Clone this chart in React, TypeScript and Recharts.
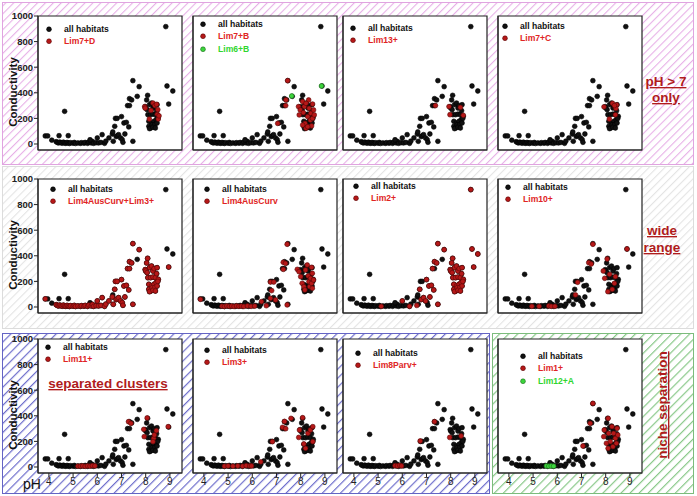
import React from 'react';
import { ScatterChart, Scatter, XAxis, YAxis, CartesianGrid, ReferenceArea, Legend } from 'recharts';

const FONT = "'Liberation Sans', Arial, sans-serif";

// ---------- data: [pH, conductivity] ----------
const allHabitats: number[][] = [
  [3.85, 63], [3.95, 63], [4.12, 30], [4.42, 65], [4.65, 255], [4.8, 65],
  [4.3, 18], [4.35, 12], [4.4, 8], [4.45, 15], [4.5, 10], [4.55, 6], [4.6, 14], [4.65, 8], [4.7, 5], [4.75, 12],
  [4.8, 8], [4.85, 4], [4.9, 10], [5.0, 6], [5.05, 12], [5.1, 4], [5.2, 8], [5.3, 5], [5.35, 10], [5.45, 6],
  [5.5, 12], [5.6, 5], [5.65, 15], [5.75, 8], [5.8, 20], [5.85, 5], [5.95, 10], [6.05, 8], [6.15, 12], [6.3, 5], [6.35, 22],
  [5.7, 33], [6.0, 47], [6.2, 73], [6.48, 47], [6.62, 78], [6.66, 21], [6.72, 138], [6.75, 200], [6.82, 200],
  [6.78, 58], [6.83, 65], [6.88, 73], [6.64, 94],
  [7.0, 214], [6.96, 47], [7.03, 34], [7.06, 13], [7.1, 164], [7.2, 169], [7.14, 78], [7.3, 133], [7.25, 300],
  [7.33, 300], [7.33, 354], [7.42, 344], [7.47, 495], [7.47, 21], [7.65, 372], [7.73, 448],
  [7.98, 292], [8.0, 281], [8.06, 268], [8.08, 380], [8.04, 344], [8.16, 307], [8.24, 320], [8.3, 281], [8.35, 300],
  [8.47, 307], [8.09, 229], [8.2, 229], [8.3, 234], [8.4, 229], [8.13, 177], [8.24, 164], [8.34, 177], [8.43, 190],
  [8.13, 138], [8.2, 125], [8.27, 151], [8.37, 151], [8.47, 164], [8.16, 120], [8.3, 130], [8.4, 125], [8.52, 216],
  [8.45, 260], [8.5, 200],
  [8.83, 917], [8.88, 453], [8.95, 312], [9.12, 414],
];

const lim7D: number[][] = [
  [7.96, 292], [7.98, 280], [8.15, 195], [8.22, 262], [8.3, 320], [8.38, 300], [8.45, 310], [8.48, 232],
  [8.5, 268], [8.52, 195], [8.55, 220],
];
const lim7B: number[][] = [
  [7.46, 495], [7.39, 344], [7.38, 300], [7.05, 161], [7.91, 292], [7.94, 227], [7.98, 266], [8.08, 331],
  [8.11, 245], [8.15, 292], [8.18, 161], [8.22, 122], [8.29, 214], [8.33, 344], [8.35, 279], [8.4, 187],
  [8.42, 240], [8.49, 312], [8.49, 200], [8.45, 141], [8.08, 148], [8.29, 135], [8.53, 266], [8.22, 318], [8.56, 227],
];
const lim6B: number[][] = [[7.63, 375], [8.86, 453]];
const lim13: number[][] = [[7.37, 300], [7.93, 292], [7.97, 229], [8.4, 286], [8.52, 224]];
const lim7C: number[][] = [[7.93, 290], [8.28, 318], [8.45, 305], [8.42, 278], [8.15, 195], [8.4, 228], [8.36, 300]];

const lim4AusCurvLim3: number[][] = [
  [3.85, 63],
  [4.3, 18], [4.35, 12], [4.4, 8], [4.45, 15], [4.5, 10], [4.55, 6], [4.6, 14], [4.65, 8], [4.7, 5], [4.75, 12],
  [4.8, 8], [4.85, 4], [4.9, 10], [5.0, 6], [5.05, 12], [5.1, 4], [5.2, 8], [5.3, 5], [5.35, 10], [5.45, 6],
  [5.5, 12], [5.6, 5], [5.65, 15], [5.75, 8], [5.8, 20], [5.85, 5], [5.95, 10], [6.05, 8], [6.15, 12], [6.3, 5], [6.35, 22],
  [6.0, 47], [6.2, 73], [6.48, 47], [6.62, 78], [6.66, 21], [6.72, 138], [6.75, 200], [6.82, 200],
  [6.78, 58], [6.83, 65], [6.88, 73],
  [7.0, 214], [6.96, 47], [7.03, 34], [7.06, 13], [7.1, 164], [7.2, 169], [7.14, 78], [7.3, 133], [7.25, 300],
  [7.33, 300], [7.33, 354], [7.42, 344], [7.47, 495], [7.47, 21], [7.73, 448],
  [7.98, 292], [8.0, 281], [8.06, 268], [8.08, 380], [8.04, 344], [8.16, 307], [8.24, 320], [8.3, 281], [8.35, 300],
  [8.47, 307], [8.09, 229], [8.2, 229], [8.3, 234], [8.4, 229], [8.13, 177], [8.24, 164], [8.34, 177], [8.43, 190],
  [8.13, 138], [8.2, 125], [8.27, 151], [8.37, 151], [8.47, 164], [8.16, 120], [8.3, 130], [8.4, 125], [8.52, 216],
  [8.45, 260], [8.5, 200], [8.95, 312],
];
const lim4AusCurv: number[][] = [
  [3.86, 60], [4.75, 6], [4.85, 4], [4.95, 8], [5.05, 5], [5.15, 7], [5.25, 4], [5.35, 8], [5.45, 5], [5.55, 7],
  [5.65, 4], [5.8, 8], [5.95, 5], [6.1, 7],
  [6.38, 42], [6.58, 10], [6.75, 68], [6.75, 195], [6.89, 195], [6.8, 128], [6.96, 55], [7.28, 349], [7.37, 341],
  [7.28, 294], [7.44, 490], [7.44, 16],
  [7.86, 294], [7.93, 276], [8.0, 237], [8.06, 185], [8.13, 159], [8.17, 133], [8.2, 289], [8.27, 328], [8.31, 242],
  [8.34, 198], [8.37, 159], [8.41, 224], [8.45, 310], [8.45, 185], [8.48, 263], [8.48, 146], [8.53, 211],
];
const lim2: number[][] = [
  [5.13, 5], [6.0, 47], [6.3, 5], [6.6, 12], [6.72, 138], [6.78, 58], [6.88, 73], [6.96, 47], [7.0, 214], [7.1, 164],
  [7.2, 169], [7.14, 78], [7.3, 133], [7.25, 300], [7.33, 354], [7.42, 344], [7.47, 495], [7.47, 21], [7.73, 448],
  [7.98, 292], [8.0, 281], [8.06, 268], [8.08, 380], [8.04, 344], [8.16, 307], [8.24, 320], [8.3, 281], [8.35, 300],
  [8.47, 307], [8.09, 229], [8.2, 229], [8.3, 234], [8.4, 229], [8.13, 177], [8.24, 164], [8.34, 177], [8.43, 190],
  [8.13, 138], [8.2, 125], [8.27, 151], [8.37, 151], [8.47, 164], [8.16, 120], [8.3, 130], [8.4, 125], [8.52, 216],
  [8.45, 260], [8.5, 200],
  [8.83, 917], [8.88, 453], [8.95, 312], [9.12, 414],
];
const lim10: number[][] = [
  [4.95, 5], [5.25, 5], [5.65, 8], [5.75, 5], [5.9, 5], [6.75, 94], [6.84, 193], [7.3, 346], [7.4, 336], [7.47, 490],
  [7.9, 281], [7.96, 224], [8.06, 375], [8.16, 255], [8.4, 237], [8.36, 185], [8.09, 120], [8.27, 138], [8.88, 453],
];
const lim11: number[][] = [
  [5.2, 6], [5.3, 6], [5.4, 8], [5.5, 5], [5.6, 8], [5.7, 6], [5.8, 10], [5.9, 8], [7.29, 354], [7.39, 341],
  [7.92, 294], [8.06, 383], [7.94, 237], [8.33, 224], [8.36, 250], [8.44, 284], [8.3, 198], [8.93, 315],
];
const lim3: number[][] = [
  [4.85, 6], [5.0, 8], [5.2, 6], [5.4, 8], [5.6, 6], [5.75, 10], [5.9, 8], [5.97, 8], [6.35, 40], [6.83, 198],
  [7.25, 310], [7.33, 356], [7.38, 299], [7.6, 380], [8.08, 385], [7.95, 289], [7.92, 231], [8.13, 180], [8.2, 146],
  [8.3, 263], [8.4, 289], [8.5, 315], [8.5, 198],
];
const lim8Parv: number[][] = [[5.7, 10], [5.8, 8], [5.9, 12], [5.97, 8], [6.74, 203], [7.33, 354], [7.96, 231], [8.43, 242]];
const lim1: number[][] = [
  [7.06, 164], [7.36, 341], [7.47, 497], [8.1, 380], [7.94, 289], [7.92, 237], [8.03, 185], [8.1, 146], [8.19, 198],
  [8.26, 315], [8.33, 263], [8.4, 224], [8.47, 302], [8.5, 250], [8.3, 159], [8.12, 263], [8.44, 185],
];
const lim12A: number[][] = [[5.55, 8], [5.65, 6], [5.75, 8], [5.85, 6]];

const phTicks = [4, 5, 6, 7, 8, 9];
const condTicks = [0, 200, 400, 600, 800, 1000];

// ---------- layout ----------
const colX = [38, 193, 343, 498];
const rowY = [16, 179, 339];
const PW = 144;
const PH = 134;
const ML = 40;
const MT = 10;

const toPts = (a: number[][]) => a.map(([ph, cond]) => ({ ph, cond }));

type PanelCfg = {
  row: number; col: number; label: string; red: number[][];
  green?: number[][]; greenLabel?: string; legend: [number, number];
};

const panels: PanelCfg[] = [
  { row: 0, col: 0, label: 'Lim7+D', red: lim7D, legend: [49, 29] },
  { row: 0, col: 1, label: 'Lim7+B', red: lim7B, green: lim6B, greenLabel: 'Lim6+B', legend: [203, 24] },
  { row: 0, col: 2, label: 'Lim13+', red: lim13, legend: [353, 28] },
  { row: 0, col: 3, label: 'Lim7+C', red: lim7C, legend: [505, 26] },
  { row: 1, col: 0, label: 'Lim4AusCurv+Lim3+', red: lim4AusCurvLim3, legend: [53, 189] },
  { row: 1, col: 1, label: 'Lim4AusCurv', red: lim4AusCurv, legend: [207, 189] },
  { row: 1, col: 2, label: 'Lim2+', red: lim2, legend: [356, 186] },
  { row: 1, col: 3, label: 'Lim10+', red: lim10, legend: [508, 187] },
  { row: 2, col: 0, label: 'Lim11+', red: lim11, legend: [48, 347] },
  { row: 2, col: 1, label: 'Lim3+', red: lim3, legend: [207, 350] },
  { row: 2, col: 2, label: 'Lim8Parv+', red: lim8Parv, legend: [358, 353] },
  { row: 2, col: 3, label: 'Lim1+', red: lim1, green: lim12A, greenLabel: 'Lim12+A', legend: [523, 356] },
];

const BLACK = { fill: '#111', stroke: '#000' };
const RED = { fill: '#b51818', stroke: '#5a0606' };
const GREEN = { fill: '#3cd43c', stroke: '#1d6b1d' };
const R = 2.4;

const dot = (style: { fill: string; stroke: string }) => (p: any) => (
  <circle cx={p.cx} cy={p.cy} r={R} fill={style.fill} stroke={style.stroke} strokeWidth={0.6} />
);

const LegendBox = ({ items }: { items: { label: string; color: string; dot: { fill: string; stroke: string } }[] }) => (
  <div style={{ fontFamily: FONT, fontWeight: 'bold', fontSize: 8.6, lineHeight: '12.5px' }}>
    {items.map((it) => (
      <div key={it.label} style={{ display: 'flex', alignItems: 'center', whiteSpace: 'nowrap', height: 12.5 }}>
        <svg width={19} height={12.5} style={{ display: 'block' }}>
          <circle cx={4} cy={6.25} r={R} fill={it.dot.fill} stroke={it.dot.stroke} strokeWidth={0.6} />
        </svg>
        <span style={{ color: it.color }}>{it.label}</span>
      </div>
    ))}
  </div>
);

function Panel({ cfg }: { cfg: PanelCfg }) {
  const left = colX[cfg.col] - ML;
  const top = rowY[cfg.row] - MT;
  const items = [
    { label: 'all habitats', color: '#111', dot: BLACK },
    { label: cfg.label, color: '#e02424', dot: RED },
  ];
  if (cfg.green && cfg.greenLabel) items.push({ label: cfg.greenLabel, color: '#2fd62f', dot: GREEN });
  const showX = cfg.row === 2;
  const showY = cfg.col === 0;
  return (
    <div style={{ position: 'absolute', left, top }}>
      <ScatterChart width={ML + PW + 10} height={MT + PH + 25} margin={{ top: MT, right: 10, bottom: 0, left: 0 }}>
        <CartesianGrid horizontal={false} vertical={false} fill="#ffffff" fillOpacity={1} />
        <XAxis
          type="number" dataKey="ph" domain={[3.55, 9.5]} ticks={phTicks} allowDataOverflow height={25}
          tickSize={4} tickMargin={1} interval={0}
          tick={showX ? { fontSize: 10, fill: '#222', fontFamily: FONT } : false}
          axisLine={{ stroke: '#222' }} tickLine={{ stroke: '#222' }}
        />
        <YAxis
          type="number" dataKey="cond" domain={[-47, 1000]} ticks={condTicks} allowDataOverflow width={ML}
          tickSize={4} tickMargin={1} interval={0}
          tick={showY ? { fontSize: 9.5, fontWeight: 'bold', fill: '#222', fontFamily: FONT } : false}
          axisLine={{ stroke: '#222' }} tickLine={{ stroke: '#222' }}
        />
        <ReferenceArea x1={3.55} x2={9.5} y1={-47} y2={1000} fill="none" stroke="#222" strokeWidth={1.2} ifOverflow="visible" />
        <Scatter data={toPts(allHabitats)} isAnimationActive={false} shape={dot(BLACK)} />
        <Scatter data={toPts(cfg.red)} isAnimationActive={false} shape={dot(RED)} />
        {cfg.green && <Scatter data={toPts(cfg.green)} isAnimationActive={false} shape={dot(GREEN)} />}
        <Legend
          layout="vertical" align="center" verticalAlign="middle"
          wrapperStyle={{ left: cfg.legend[0] - 4 - left, top: cfg.legend[1] - 6.25 - top, width: 'auto', height: 'auto' }}
          content={() => <LegendBox items={items} />}
        />
      </ScatterChart>
    </div>
  );
}

const ANNOT = '#b01c1c';

export default function App() {
  return (
    <div style={{ position: 'absolute', left: 0, top: 0, width: 697, height: 496, background: '#fff', fontFamily: FONT }}>
      <svg width={697} height={496} style={{ position: 'absolute', left: 0, top: 0 }}>
        <defs>
          <pattern id="hPink" width="5.6" height="5.6" patternUnits="userSpaceOnUse" patternTransform="rotate(45)">
            <rect x="0" y="0" width="1.1" height="5.6" fill="#e7b0e7" />
          </pattern>
          <pattern id="hGray" width="5.6" height="5.6" patternUnits="userSpaceOnUse" patternTransform="rotate(45)">
            <rect x="0" y="0" width="1.1" height="5.6" fill="#e4e4e4" />
          </pattern>
          <pattern id="hBlue" width="6.4" height="6.4" patternUnits="userSpaceOnUse" patternTransform="rotate(45)">
            <rect x="0" y="0" width="1.2" height="6.4" fill="#6e6ecc" />
          </pattern>
          <pattern id="hGreen" width="6.4" height="6.4" patternUnits="userSpaceOnUse" patternTransform="rotate(45)">
            <rect x="0" y="0" width="1.2" height="6.4" fill="#88c888" />
          </pattern>
        </defs>
        <rect x={2.5} y={2.5} width={691} height={162} fill="url(#hPink)" stroke="#e0a4e0" strokeWidth={1} />
        <rect x={2.5} y={166.5} width={691} height={162} fill="url(#hGray)" stroke="#dcdcdc" strokeWidth={1} />
        <rect x={2.5} y={333.5} width={487} height={160} fill="url(#hBlue)" stroke="#6464c4" strokeWidth={1} />
        <rect x={492.5} y={333.5} width={201} height={160} fill="url(#hGreen)" stroke="#7cbc7c" strokeWidth={1} />
      </svg>
      {panels.map((p, i) => <Panel key={i} cfg={p} />)}
      <svg width={697} height={496} style={{ position: 'absolute', left: 0, top: 0, pointerEvents: 'none' }}>
        {rowY.map((y, i) => (
          <text key={i} x={13} y={y + 76} transform={`rotate(-90, 13, ${y + 76})`} textAnchor="middle"
            dominantBaseline="central" fontSize={11.5} fontWeight="bold" fill="#111" fontFamily={FONT}>
            Conductivity
          </text>
        ))}
        <text x={23} y={489} fontSize={14} fill="#111" fontFamily={FONT}>pH</text>
        <g fontFamily={FONT} fontWeight="bold" fill={ANNOT} textDecoration="underline" fontSize={13.5} textAnchor="middle">
          <text x={666} y={86}>pH &gt; 7</text>
          <text x={666} y={102}>only</text>
          <text x={662} y={235}>wide</text>
          <text x={662} y={252}>range</text>
          <text x={108} y={388}>separated clusters</text>
          <text x={0} y={0} transform="translate(667, 405) rotate(-90)">niche separation</text>
        </g>
      </svg>
    </div>
  );
}
